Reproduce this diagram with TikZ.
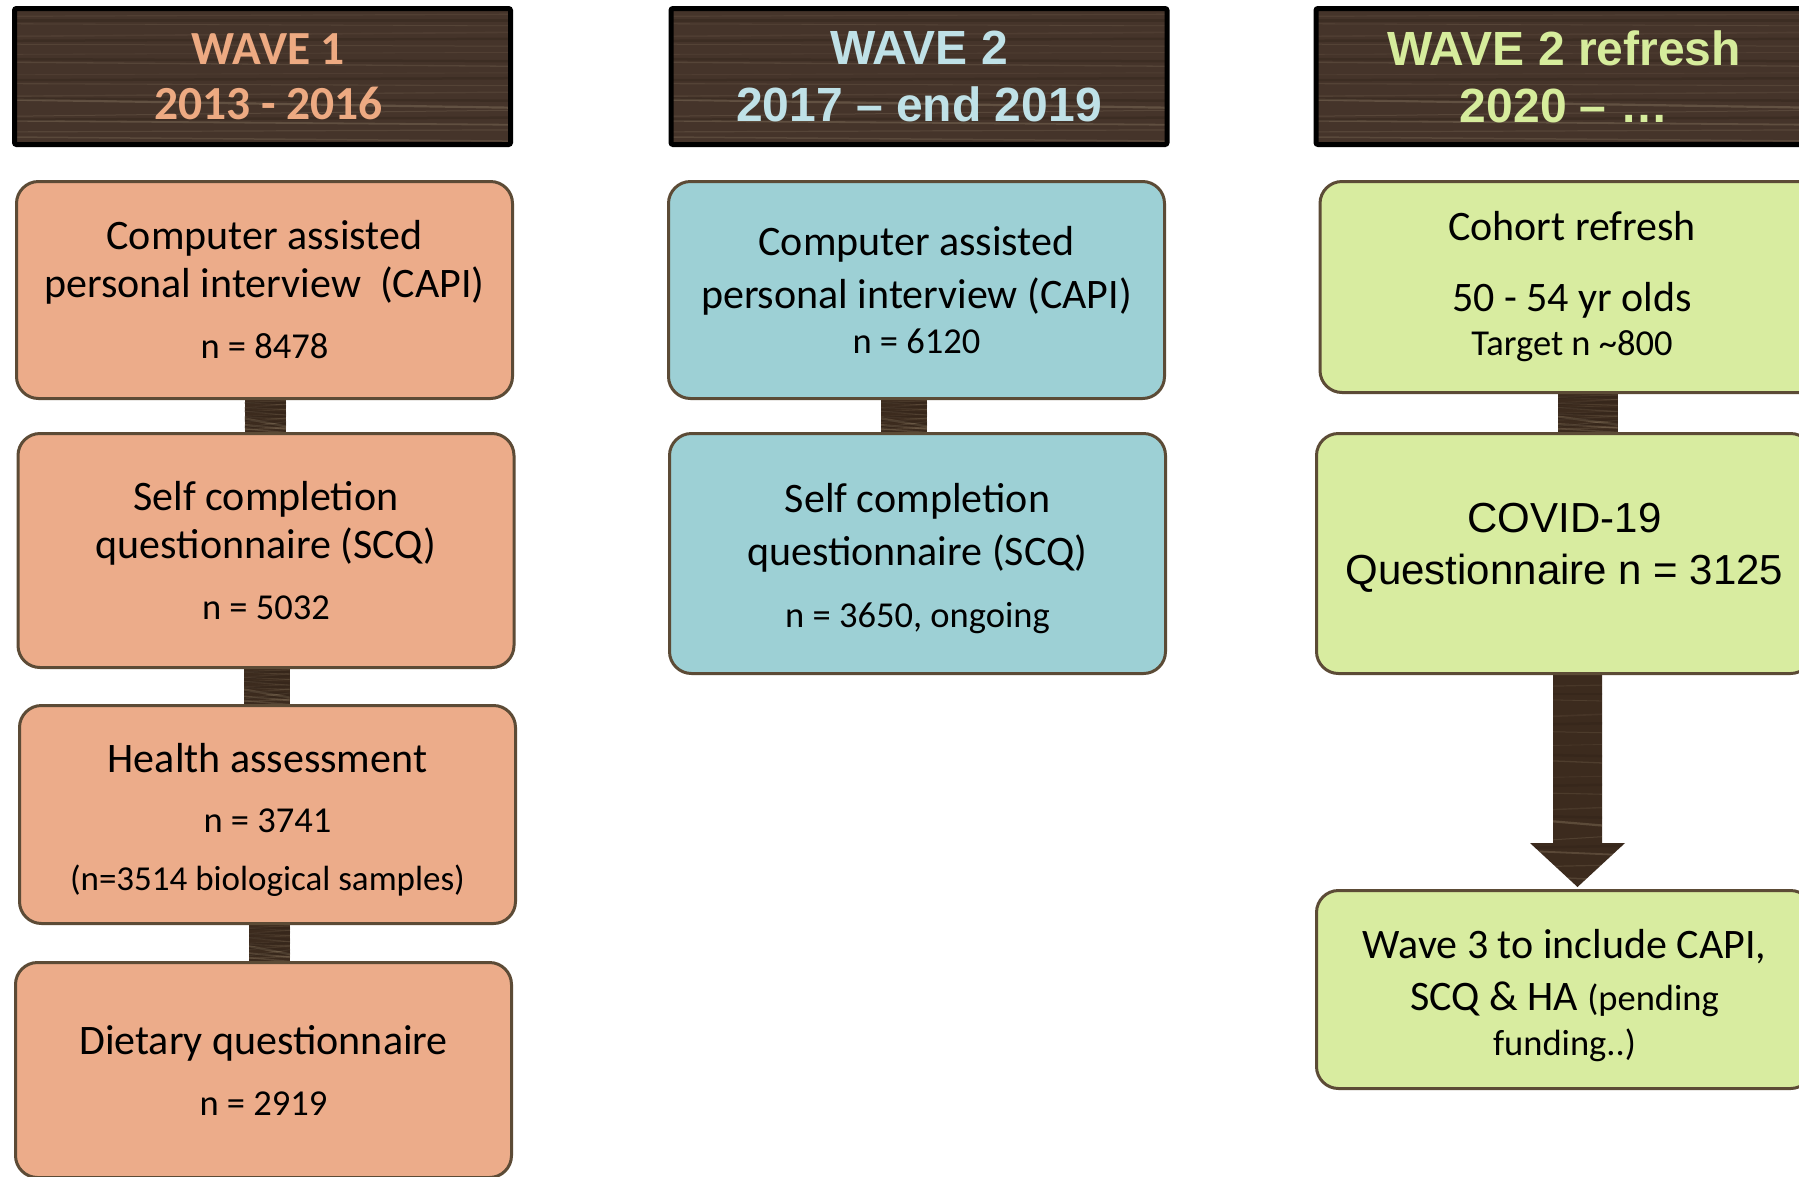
\documentclass[tikz,border=0pt]{standalone}
\usepackage{fontspec}
\setmainfont{Carlito}
\newfontfamily\arialfont{Liberation Sans}
\usetikzlibrary{calc,backgrounds}

\definecolor{woodbase}{HTML}{45342A}
\definecolor{wooddark}{HTML}{3C2B1E}
\definecolor{grain}{HTML}{A8967A}
\definecolor{grainshade}{HTML}{2E2118}
\definecolor{edge}{HTML}{5C4B36}
\definecolor{salmon}{HTML}{ECAC8A}
\definecolor{aqua}{HTML}{9DD0D5}
\definecolor{lime}{HTML}{D8ECA0}
\definecolor{salmontxt}{HTML}{EDAA82}
\definecolor{aquatxt}{HTML}{BFE1E7}
\definecolor{limetxt}{HTML}{D6EC9C}

\newcommand\numsz{\fontsize{36.5}{42}\selectfont}
\newcommand\minorsz{\fontsize{35}{40}\selectfont}

\tikzset{
  grainline/.style={draw=grain, line cap=round},
  shadeline/.style={draw=grainshade, line cap=round},
  woodgrain/.style={path picture={
    \foreach \f/\d/\o/\w in {0.05/1/0.12/1.2, 0.12/-1/0.18/0.8, 0.19/2/0.1/1.6,
        0.27/-1/0.16/1, 0.33/1/0.12/0.8, 0.41/-2/0.18/1.3, 0.48/1/0.1/0.9,
        0.56/-1/0.16/1.1, 0.63/2/0.13/1.4, 0.70/-4/0.3/2.2, 0.77/3/0.2/1,
        0.84/-2/0.28/1.8, 0.90/1/0.18/1.2, 0.96/-2/0.22/1.5}{
      \draw[grainline, opacity=\o, line width=\w pt]
        ($(path picture bounding box.north west)!\f!(path picture bounding box.south west)+(0,\d)$) --
        ($(path picture bounding box.north east)!\f!(path picture bounding box.south east)-(0,\d)$);
    }
    \foreach \f/\d in {0.09/0, 0.23/1, 0.38/-1, 0.52/1, 0.67/-1, 0.81/1}{
      \draw[shadeline, opacity=0.35, line width=2.5pt]
        ($(path picture bounding box.north west)!\f!(path picture bounding box.south west)+(0,\d)$) --
        ($(path picture bounding box.north east)!\f!(path picture bounding box.south east)-(0,\d)$);
    }}},
  header/.style={draw=black, line width=5pt, rounded corners=2pt, fill=woodbase, woodgrain,
    minimum width=496pt, minimum height=136pt, inner sep=0pt, align=center},
  headtext/.style={align=center, inner sep=0pt},
  box/.style={draw=edge, line width=3pt, rounded corners=22pt, minimum width=496pt,
    inner sep=0pt, align=center, font=\fontsize{42}{48}\selectfont},
  bar/.style={fill=wooddark, woodgrain}
}

\begin{document}
\begin{tikzpicture}[x=1pt,y=-1pt]
\useasboundingbox (0,0) rectangle (1799,1176);
\clip (0,0) rectangle (1799,1176);

% column headings
\node[header] (h1) at (262.5,76.5) {};
\node[headtext, text=salmontxt, font=\bfseries\fontsize{47.5}{55}\selectfont] (h1t)
  at ([xshift=6pt]h1.center) {WAVE 1\\2013 - 2016};
\node[header, text=aquatxt, font=\arialfont\bfseries\fontsize{48}{57}\selectfont] (h2) at (919,76.5) {WAVE 2\\2017 – end 2019};
\node[header, text=limetxt, font=\arialfont\bfseries\fontsize{48}{57}\selectfont] (h3) at (1564,76.5) {WAVE 2 refresh\\2020 – …};

% wave 1
\node[box, fill=salmon, minimum height=217pt] (capi1) at (264.5,290)
  {Computer assisted\\personal interview~ (CAPI)\\[13pt]{\numsz n = 8478}};
\node[box, fill=salmon, minimum height=234pt] (scq1) at (266,550.5)
  {Self completion\\questionnaire (SCQ)\\[13pt]{\numsz n = 5032}};
\node[box, fill=salmon, minimum height=218pt] (ha1) at (267.5,814.5)
  {\rule{0pt}{39pt}Health assessment\\[12pt]{\numsz n = 3741}\\[10pt]{\minorsz (n=3514 biological samples)}};
\node[box, fill=salmon, minimum height=215pt] (diet1) at (263.5,1070)
  {Dietary questionnaire\\[13pt]{\numsz n = 2919}};

% wave 2
\node[box, fill=aqua, minimum height=217pt] (capi2) at (916.5,290)
  {Computer assisted\\[5pt]personal interview (CAPI)\\[-3pt]{\numsz n = 6120}};
\node[box, fill=aqua, minimum height=240pt] (scq2) at (917.5,553.5)
  {\rule{0pt}{39.5pt}Self completion\\[5pt]questionnaire (SCQ)\\[14pt]{\numsz n = 3650, ongoing}};

% wave 2 refresh
\node[box, fill=lime, minimum height=211pt, minimum width=504pt] (cohort) at (1572,287)
  {Cohort refresh\\[23pt]50 - 54 yr olds\\[-4pt]{\numsz Target n \textasciitilde800}};
\node[box, fill=lime, minimum height=240pt, font=\arialfont\fontsize{42}{48}\selectfont] (covid) at (1564.5,553.5)
  {COVID-19\\[4pt]Questionnaire n = 3125\\[-28pt]\mbox{}};
\node[box, fill=lime, minimum height=198pt] (wave3) at (1564.5,989.5)
  {\rule{0pt}{41pt}Wave 3 to include CAPI,\\[4pt]SCQ \& HA {\numsz(pending}\\[-3pt]{\numsz funding..)}};

\coordinate (tail) at ([xshift=13pt]covid.south);
\coordinate (tip) at ([xshift=13pt, yshift=2pt]wave3.north);

\begin{scope}[on background layer]
  \fill[white] (0,0) rectangle (1799,1176);
  % links between stages
  \path[bar] ([xshift=-20pt]capi1.south) rectangle ([xshift=20pt]scq1.north);
  \path[bar] ([xshift=-22pt]scq1.south) rectangle ([xshift=22pt]ha1.north);
  \path[bar] ([xshift=-18.5pt]ha1.south) rectangle ([xshift=26.5pt]diet1.north);
  \path[bar] ([xshift=-35.5pt]capi2.south) rectangle ([xshift=9.5pt]scq2.north);
  \path[bar] ([xshift=-14pt]cohort.south) rectangle ([xshift=53pt]covid.north);
  % block arrow towards wave 3
  \path[bar] ($(tail)+(-24.5,0)$) -- ($(tip)+(-24.5,-44)$) -- ($(tip)+(-47.5,-44)$) -- (tip)
     -- ($(tip)+(47.5,-44)$) -- ($(tip)+(24.5,-44)$) -- ($(tail)+(24.5,0)$) -- cycle;
\end{scope}
\end{tikzpicture}
\end{document}
